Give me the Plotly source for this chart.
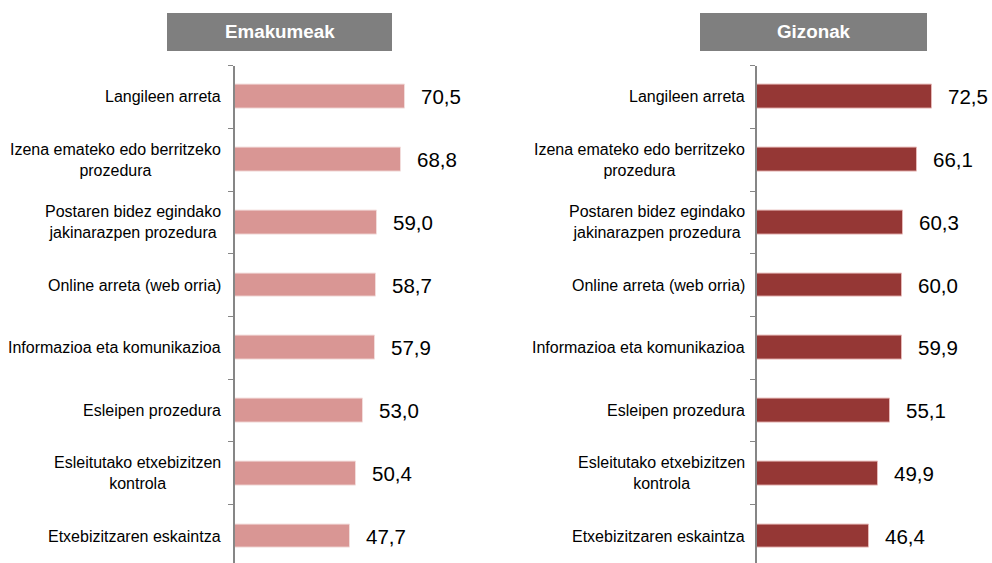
import plotly.graph_objects as go

categories = [
    "Langileen arreta",
    "Izena emateko edo berritzeko<br>prozedura",
    "Postaren bidez egindako<br>jakinarazpen prozedura",
    "Online arreta (web orria)",
    "Informazioa eta komunikazioa",
    "Esleipen prozedura",
    "Esleitutako etxebizitzen<br>kontrola",
    "Etxebizitzaren eskaintza",
]
emakumeak = [70.5, 68.8, 59.0, 58.7, 57.9, 53.0, 50.4, 47.7]
gizonak = [72.5, 66.1, 60.3, 60.0, 59.9, 55.1, 49.9, 46.4]
panel_titles = ["Emakumeak", "Gizonak"]

W, H = 992, 563
FONT = "Liberation Sans, Arial, sans-serif"
idx = list(range(len(categories)))

def px(x):
    return x / W

def py(y):
    return 1 - y / H

fig = go.Figure()
fig.add_trace(go.Bar(
    x=emakumeak, y=idx, orientation="h", width=0.38,
    marker=dict(color="#D99694", line=dict(color="#F2DCDB", width=1)),
    xaxis="x", yaxis="y", hoverinfo="x",
))
fig.add_trace(go.Bar(
    x=gizonak, y=idx, orientation="h", width=0.38,
    marker=dict(color="#953735", line=dict(color="#E6B9B8", width=1)),
    xaxis="x2", yaxis="y2", hoverinfo="x",
))

annotations = []
for xr, yr, vals, shift in [("x", "y", emakumeak, -12), ("x2", "y2", gizonak, -10)]:
    for i, (c, v) in enumerate(zip(categories, vals)):
        annotations.append(dict(
            xref=xr, yref=yr, x=0, y=i, text=c, showarrow=False,
            xanchor="right", yanchor="middle", align="center", xshift=shift,
            font=dict(family=FONT, size=16, color="#000000"),
        ))
        annotations.append(dict(
            xref=xr, yref=yr, x=v, y=i, text=f"{v:.1f}".replace(".", ","),
            showarrow=False, xanchor="left", yanchor="middle", xshift=14,
            font=dict(family=FONT, size=20.5, color="#000000"),
        ))

boxes = [(167, 392), (700, 927)]
shapes = []
for (x0, x1), t in zip(boxes, panel_titles):
    shapes.append(dict(type="rect", xref="paper", yref="paper",
                       x0=px(x0), x1=px(x1), y0=py(51), y1=py(13),
                       fillcolor="#7F7F7F", line=dict(width=0), layer="below"))
    annotations.append(dict(xref="paper", yref="paper", x=px((x0 + x1) / 2), y=py(32),
                            text=f"<b>{t}</b>", showarrow=False,
                            xanchor="center", yanchor="middle",
                            font=dict(family=FONT, size=18.8, color="#FFFFFF")))

boundary_vals = [i - 0.5 for i in range(len(categories) + 1)]
yaxis_common = dict(
    type="linear", range=[7.43, -0.5], domain=[0, py(65.6)],
    showline=True, linecolor="#868686", linewidth=1.5,
    ticks="outside", ticklen=5, tickcolor="#868686", tickwidth=1,
    tickmode="array", tickvals=boundary_vals, showticklabels=False,
    showgrid=False, zeroline=False,
)

fig.update_layout(
    width=W, height=H, margin=dict(l=0, r=0, t=0, b=0),
    paper_bgcolor="white", plot_bgcolor="white", showlegend=False,
    xaxis=dict(domain=[px(235), px(476)], range=[0, 100], visible=False, anchor="y"),
    xaxis2=dict(domain=[px(757), 1.0], range=[0, 97.3], visible=False, anchor="y2"),
    yaxis=dict(**yaxis_common, anchor="x"),
    yaxis2=dict(**yaxis_common, anchor="x2"),
    annotations=annotations, shapes=shapes,
    bargap=0,
)

fig.write_html("out.html", config={"displayModeBar": False},
               post_script="document.body.style.margin='0';document.body.style.overflow='hidden';")
